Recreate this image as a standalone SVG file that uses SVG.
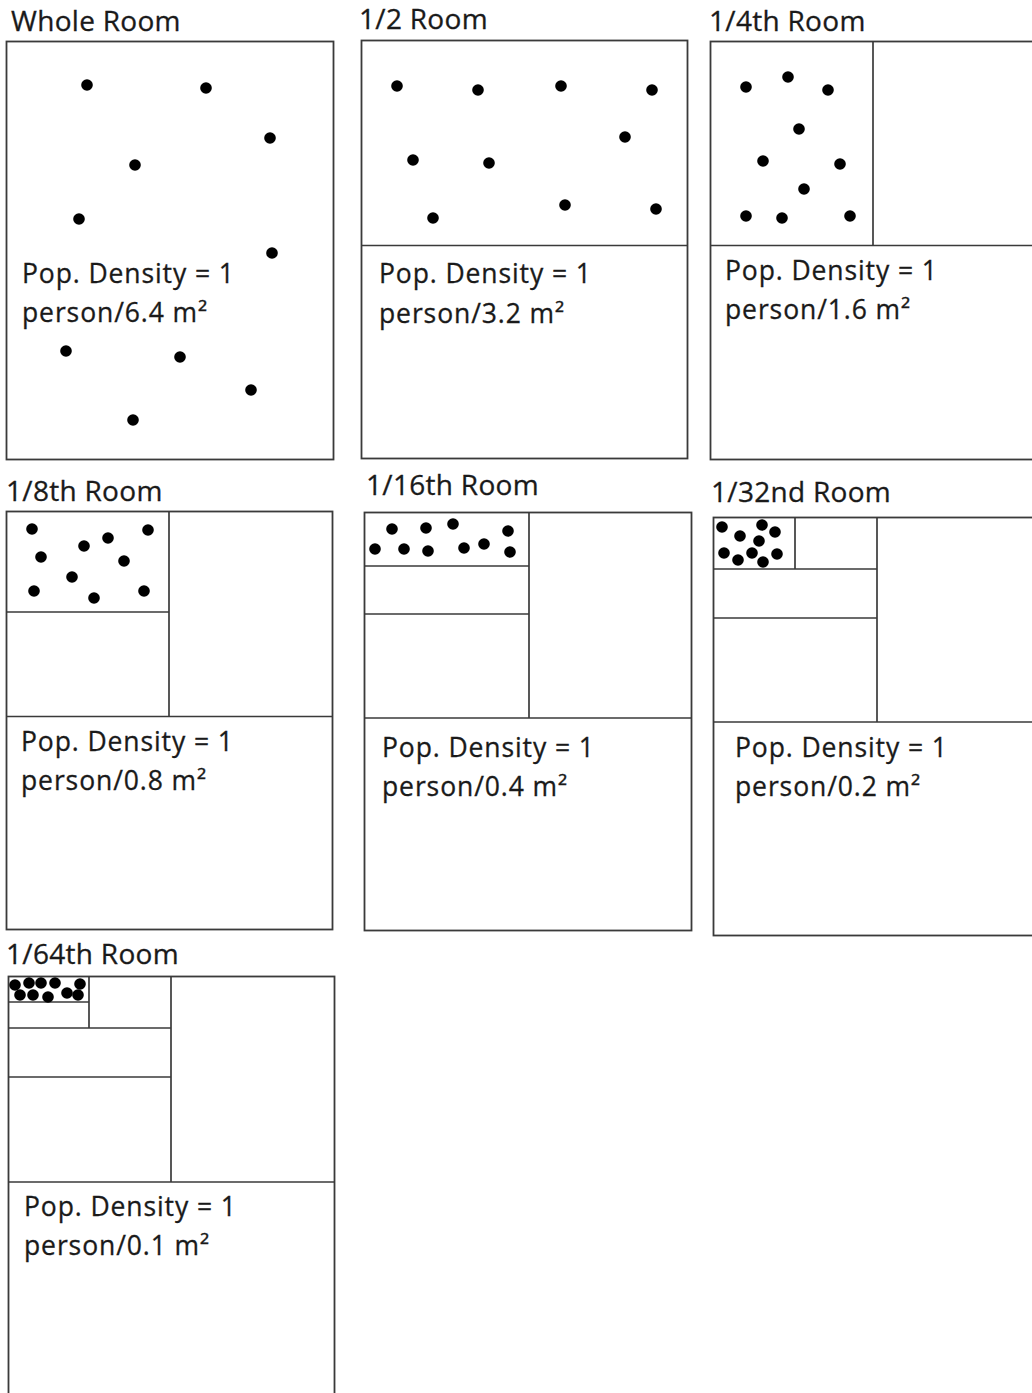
<svg xmlns="http://www.w3.org/2000/svg" width="1032" height="1393" viewBox="0 0 1032 1393">
<style>
.frame{fill:none;stroke:#3a3a3a;stroke-width:1.8}
.div{fill:none;stroke:#3a3a3a;stroke-width:1.7}
.dot{fill:#000}
.title{font-family:"Open Sans","Liberation Sans",sans-serif;font-size:28px;font-weight:500;letter-spacing:0.3px;fill:#1a1a1a;stroke:#1a1a1a;stroke-width:0.3}
.lbl{font-family:"Open Sans","Liberation Sans",sans-serif;font-size:26.5px;font-weight:500;letter-spacing:0.9px;fill:#1a1a1a;stroke:#1a1a1a;stroke-width:0.3}
</style>
<rect width="1032" height="1393" fill="#fff"/>

<g id="whole-room">
<text class="title" x="11" y="31">Whole Room</text>
<rect class="frame" x="6.5" y="41.5" width="327" height="418"/>
<circle class="dot" cx="87" cy="85" r="5.8"/><circle class="dot" cx="206" cy="88" r="5.8"/>
<circle class="dot" cx="270" cy="138" r="5.8"/><circle class="dot" cx="135" cy="165" r="5.8"/>
<circle class="dot" cx="79" cy="219" r="5.8"/><circle class="dot" cx="272" cy="253" r="5.8"/>
<circle class="dot" cx="66" cy="351" r="5.8"/><circle class="dot" cx="180" cy="357" r="5.8"/>
<circle class="dot" cx="251" cy="390" r="5.8"/><circle class="dot" cx="133" cy="420" r="5.8"/>
<text class="lbl" x="22" y="283">Pop. Density = 1</text>
<text class="lbl" x="22" y="322">person/6.4 m²</text>
</g>

<g id="half-room">
<text class="title" x="359" y="29">1/2 Room</text>
<rect class="frame" x="361.5" y="40.5" width="326" height="418"/>
<line class="div" x1="361.5" y1="245.5" x2="687.5" y2="245.5"/>
<circle class="dot" cx="397" cy="86" r="5.8"/><circle class="dot" cx="478" cy="90" r="5.8"/>
<circle class="dot" cx="561" cy="86" r="5.8"/><circle class="dot" cx="652" cy="90" r="5.8"/>
<circle class="dot" cx="625" cy="137" r="5.8"/><circle class="dot" cx="413" cy="160" r="5.8"/>
<circle class="dot" cx="489" cy="163" r="5.8"/><circle class="dot" cx="433" cy="218" r="5.8"/>
<circle class="dot" cx="565" cy="205" r="5.8"/><circle class="dot" cx="656" cy="209" r="5.8"/>
<text class="lbl" x="379" y="283">Pop. Density = 1</text>
<text class="lbl" x="379" y="323">person/3.2 m²</text>
</g>

<g id="quarter-room">
<text class="title" x="709" y="31">1/4th Room</text>
<rect class="frame" x="710.5" y="41.5" width="330" height="418"/>
<line class="div" x1="710.5" y1="245.5" x2="1040" y2="245.5"/>
<line class="div" x1="873" y1="41.5" x2="873" y2="245.5"/>
<circle class="dot" cx="746" cy="87" r="5.8"/><circle class="dot" cx="788" cy="77" r="5.8"/>
<circle class="dot" cx="828" cy="90" r="5.8"/><circle class="dot" cx="799" cy="129" r="5.8"/>
<circle class="dot" cx="763" cy="161" r="5.8"/><circle class="dot" cx="840" cy="164" r="5.8"/>
<circle class="dot" cx="804" cy="189" r="5.8"/><circle class="dot" cx="746" cy="216" r="5.8"/>
<circle class="dot" cx="782" cy="218" r="5.8"/><circle class="dot" cx="850" cy="216" r="5.8"/>
<text class="lbl" x="725" y="280">Pop. Density = 1</text>
<text class="lbl" x="725" y="319">person/1.6 m²</text>
</g>

<g id="eighth-room">
<text class="title" x="6" y="501">1/8th Room</text>
<rect class="frame" x="6.5" y="511.5" width="326" height="418"/>
<line class="div" x1="6.5" y1="716.5" x2="332.5" y2="716.5"/>
<line class="div" x1="169" y1="511.5" x2="169" y2="716.5"/>
<line class="div" x1="6.5" y1="612" x2="169" y2="612"/>
<circle class="dot" cx="32" cy="529" r="5.8"/><circle class="dot" cx="148" cy="530" r="5.8"/>
<circle class="dot" cx="108" cy="538" r="5.8"/><circle class="dot" cx="84" cy="546" r="5.8"/>
<circle class="dot" cx="41" cy="557" r="5.8"/><circle class="dot" cx="124" cy="561" r="5.8"/>
<circle class="dot" cx="72" cy="577" r="5.8"/><circle class="dot" cx="34" cy="591" r="5.8"/>
<circle class="dot" cx="144" cy="591" r="5.8"/><circle class="dot" cx="94" cy="598" r="5.8"/>
<text class="lbl" x="21" y="751">Pop. Density = 1</text>
<text class="lbl" x="21" y="790">person/0.8 m²</text>
</g>

<g id="sixteenth-room">
<text class="title" x="366" y="495">1/16th Room</text>
<rect class="frame" x="364.5" y="512.5" width="327" height="418"/>
<line class="div" x1="364.5" y1="718" x2="691.5" y2="718"/>
<line class="div" x1="529" y1="512.5" x2="529" y2="718"/>
<line class="div" x1="364.5" y1="566" x2="529" y2="566"/>
<line class="div" x1="364.5" y1="614" x2="529" y2="614"/>
<circle class="dot" cx="392" cy="529" r="5.8"/><circle class="dot" cx="426" cy="528" r="5.8"/>
<circle class="dot" cx="453" cy="524" r="5.8"/><circle class="dot" cx="508" cy="531" r="5.8"/>
<circle class="dot" cx="375" cy="549" r="5.8"/><circle class="dot" cx="404" cy="549" r="5.8"/>
<circle class="dot" cx="428" cy="551" r="5.8"/><circle class="dot" cx="464" cy="548" r="5.8"/>
<circle class="dot" cx="484" cy="544" r="5.8"/><circle class="dot" cx="510" cy="552" r="5.8"/>
<text class="lbl" x="382" y="757">Pop. Density = 1</text>
<text class="lbl" x="382" y="796">person/0.4 m²</text>
</g>

<g id="thirtysecond-room">
<text class="title" x="711" y="502">1/32nd Room</text>
<rect class="frame" x="713.5" y="517.5" width="330" height="418"/>
<line class="div" x1="713.5" y1="722" x2="1040" y2="722"/>
<line class="div" x1="877" y1="517.5" x2="877" y2="722"/>
<line class="div" x1="713.5" y1="569" x2="877" y2="569"/>
<line class="div" x1="713.5" y1="618" x2="877" y2="618"/>
<line class="div" x1="795" y1="517.5" x2="795" y2="569"/>
<circle class="dot" cx="722" cy="527" r="5.8"/><circle class="dot" cx="740" cy="536" r="5.8"/>
<circle class="dot" cx="762" cy="525" r="5.8"/><circle class="dot" cx="775" cy="532" r="5.8"/>
<circle class="dot" cx="759" cy="541" r="5.8"/><circle class="dot" cx="724" cy="553" r="5.8"/>
<circle class="dot" cx="738" cy="560" r="5.8"/><circle class="dot" cx="752" cy="553" r="5.8"/>
<circle class="dot" cx="763" cy="562" r="5.8"/><circle class="dot" cx="777" cy="554" r="5.8"/>
<text class="lbl" x="735" y="757">Pop. Density = 1</text>
<text class="lbl" x="735" y="796">person/0.2 m²</text>
</g>

<g id="sixtyfourth-room">
<text class="title" x="6" y="964">1/64th Room</text>
<rect class="frame" x="8.5" y="976.5" width="326" height="425"/>
<line class="div" x1="8.5" y1="1182" x2="334.5" y2="1182"/>
<line class="div" x1="171" y1="976.5" x2="171" y2="1182"/>
<line class="div" x1="8.5" y1="1028" x2="171" y2="1028"/>
<line class="div" x1="8.5" y1="1077" x2="171" y2="1077"/>
<line class="div" x1="89" y1="976.5" x2="89" y2="1028"/>
<line class="div" x1="8.5" y1="1002" x2="89" y2="1002"/>
<circle class="dot" cx="15" cy="985" r="5.8"/><circle class="dot" cx="20" cy="995" r="5.8"/>
<circle class="dot" cx="29" cy="983" r="5.8"/><circle class="dot" cx="33" cy="995" r="5.8"/>
<circle class="dot" cx="41" cy="983" r="5.8"/><circle class="dot" cx="48" cy="997" r="5.8"/>
<circle class="dot" cx="55" cy="983" r="5.8"/><circle class="dot" cx="67" cy="993" r="5.8"/>
<circle class="dot" cx="78" cy="995" r="5.8"/><circle class="dot" cx="80" cy="984" r="5.8"/>
<text class="lbl" x="24" y="1216">Pop. Density = 1</text>
<text class="lbl" x="24" y="1255">person/0.1 m²</text>
</g>

<g id="connectors"></g>
</svg>
